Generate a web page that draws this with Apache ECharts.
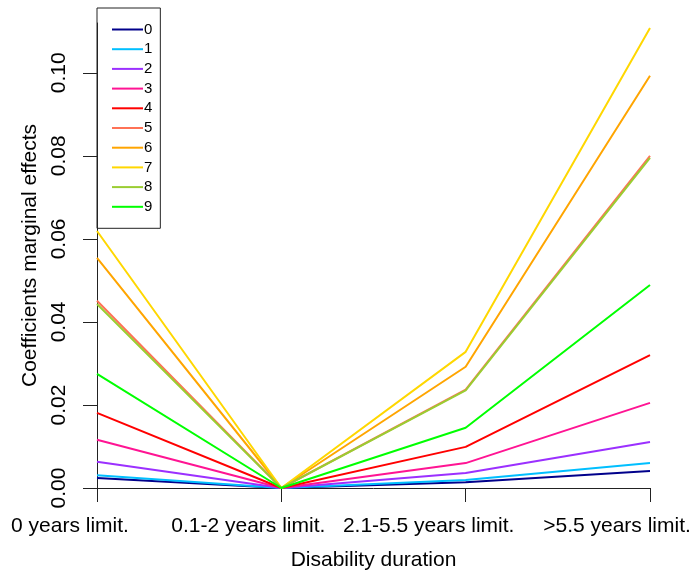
<!DOCTYPE html>
<html>
<head>
<meta charset="utf-8">
<script src="https://cdn.jsdelivr.net/npm/echarts@6/dist/echarts.min.js"></script>
<style>html,body{margin:0;padding:0;background:#fff;}#c{width:694px;height:576px;}</style>
</head>
<body>
<div id="c"></div>
<script>
var categories = ['0 years limit.', '0.1-2 years limit.', '2.1-5.5 years limit.', '>5.5 years limit.'];
var seriesNames = ['0', '1', '2', '3', '4', '5', '6', '7', '8', '9'];
var seriesColors = ['#00008B', '#00BFFF', '#9B30FF', '#FF1493', '#FF0000', '#FF7256', '#FFA500', '#FFD700', '#9ACD32', '#00FF00'];
var s0 = [0.0024, 0, 0.0014, 0.0041];
var s1 = [0.0031, 0, 0.0019, 0.0060];
var s2 = [0.0063, 0, 0.0036, 0.0111];
var s3 = [0.0116, 0, 0.0060, 0.0205];
var s4 = [0.0181, 0, 0.0099, 0.0320];
var s5 = [0.0451, 0, 0.0237, 0.0800];
var s6 = [0.0554, 0, 0.0292, 0.0993];
var s7 = [0.0619, 0, 0.0328, 0.1108];
var s8 = [0.0443, 0, 0.0235, 0.0795];
var s9 = [0.0275, 0, 0.0145, 0.0489];
var yTicks = [0, 0.02, 0.04, 0.06, 0.08, 0.10];
var yTickLabels = ['0.00', '0.02', '0.04', '0.06', '0.08', '0.10'];

var allData = [s0, s1, s2, s3, s4, s5, s6, s7, s8, s9];
var font = 'Liberation Sans, Arial, sans-serif';
var chart = echarts.init(document.getElementById('c'), null, {renderer: 'canvas'});
var series = seriesNames.map(function (n, i) {
  return {
    name: n, type: 'line', data: allData[i], symbol: 'none', animation: false,
    lineStyle: {color: seriesColors[i], width: 2}, itemStyle: {color: seriesColors[i]}
  };
});
var labelShiftStyles = ['s0', 's1', 's2', 's3'];
chart.setOption({
  animation: false,
  grid: {left: 97, right: 44, top: 23, bottom: 88},
  legend: {
    orient: 'vertical', left: 97, top: 8,
    data: seriesNames,
    itemWidth: 31, itemHeight: 14, itemGap: 4.7,
    padding: [14, 8, 14, 14],
    borderColor: '#222', borderWidth: 1,
    itemStyle: {opacity: 0},
    textStyle: {fontFamily: font, fontSize: 15, color: '#000', padding: [0, 0, 0, -4]}
  },
  xAxis: {
    type: 'category', data: categories, boundaryGap: false,
    name: 'Disability duration', nameLocation: 'middle', nameGap: 62,
    nameTextStyle: {fontFamily: font, fontSize: 21, color: '#000'},
    axisLine: {lineStyle: {color: '#222', width: 1}},
    axisTick: {length: 14, lineStyle: {color: '#222'}},
    axisLabel: {
      fontFamily: font, fontSize: 21, color: '#000', margin: 28, interval: 0,
      formatter: function (v, i) { return '{' + labelShiftStyles[i] + '|' + v + '}'; },
      rich: {
        s0: {fontFamily: font, fontSize: 21, color: '#000', padding: [0, 54, 0, 0]},
        s1: {fontFamily: font, fontSize: 21, color: '#000', padding: [0, 66, 0, 0]},
        s2: {fontFamily: font, fontSize: 21, color: '#000', padding: [0, 74, 0, 0]},
        s3: {fontFamily: font, fontSize: 21, color: '#000', padding: [0, 66, 0, 0]}
      }
    },
    splitLine: {show: false}
  },
  yAxis: {
    type: 'value', min: 0, max: 0.112,
    name: 'Coefficients marginal effects', nameLocation: 'middle', nameGap: 56,
    nameTextStyle: {fontFamily: font, fontSize: 21, color: '#000'},
    axisLine: {show: true, lineStyle: {color: '#222', width: 1}},
    axisTick: {show: true, length: 14, lineStyle: {color: '#222'}, customValues: yTicks},
    axisLabel: {
      fontFamily: font, fontSize: 21, color: '#000', rotate: 90, margin: 27,
      customValues: yTicks,
      formatter: function (v) {
        for (var i = 0; i < yTicks.length; i++) { if (Math.abs(v - yTicks[i]) < 1e-9) return yTickLabels[i]; }
        return '';
      }
    },
    splitLine: {show: false}
  },
  series: series
});
</script>
</body>
</html>
